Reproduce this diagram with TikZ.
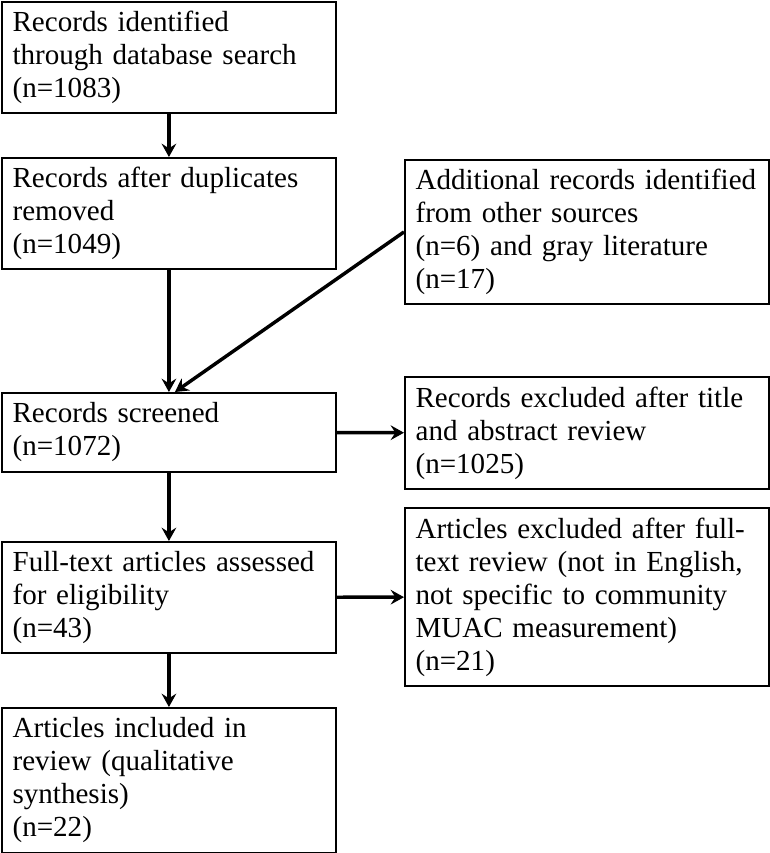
\documentclass[tikz,border=0pt]{standalone}
\usepackage{fontspec}
\setmainfont{Liberation Serif}
\usetikzlibrary{positioning,arrows.meta}
\begin{document}
\begin{tikzpicture}[x=0.75pt,y=-0.75pt,
  box/.style={draw,line width=1.4pt,anchor=north west,align=left,inner xsep=8pt,inner ysep=2pt,
    font=\fontsize{21.8}{24.75}\selectfont},
  lbox/.style={box,text width=234.5pt},
  rbox/.style={box,text width=257pt},
  flow/.style={line width=2.6pt,-{Stealth[length=10pt,width=11pt,inset=3.5pt]}}]
  \useasboundingbox (0,0) rectangle (769,853);
  \node[lbox,minimum height=83.25pt] (ident) at (1,1) {Records identified\\through database search\\(n=1083)};
  \node[lbox,minimum height=83.25pt] (dedup) at (1,157) {Records after duplicates\\removed\\(n=1049)};
  \node[rbox,minimum height=108pt] (other) at (404,159) {Additional records identified\\from other sources\\(n=6) and gray literature\\(n=17)};
  \node[lbox,minimum height=59.25pt] (screen) at (1,392) {Records screened\\(n=1072)};
  \node[rbox,minimum height=84pt] (exclA) at (404,376) {Records excluded after title\\and abstract review\\(n=1025)};
  \node[lbox,minimum height=83.25pt] (full) at (1,541) {Full-text articles assessed\\for eligibility\\(n=43)};
  \node[rbox,minimum height=133.5pt] (exclB) at (404,507) {Articles excluded after full-\\text review (not in English,\\not specific to community\\MUAC measurement)\\(n=21)};
  \node[lbox,minimum height=108.75pt] (incl) at (1,707) {Articles included in\\review (qualitative\\synthesis)\\(n=22)};
  \coordinate (merge) at ([xshift=4.5pt]screen.north);
  \draw[flow] (ident) -- (dedup);
  \draw[flow] (dedup) -- (screen);
  \draw[flow] (other.west) -- (merge);
  \draw[flow] (screen) -- (exclA);
  \draw[flow] (screen) -- (full);
  \draw[flow] (full) -- (exclB);
  \draw[flow] (full) -- (incl);
\end{tikzpicture}
\end{document}
